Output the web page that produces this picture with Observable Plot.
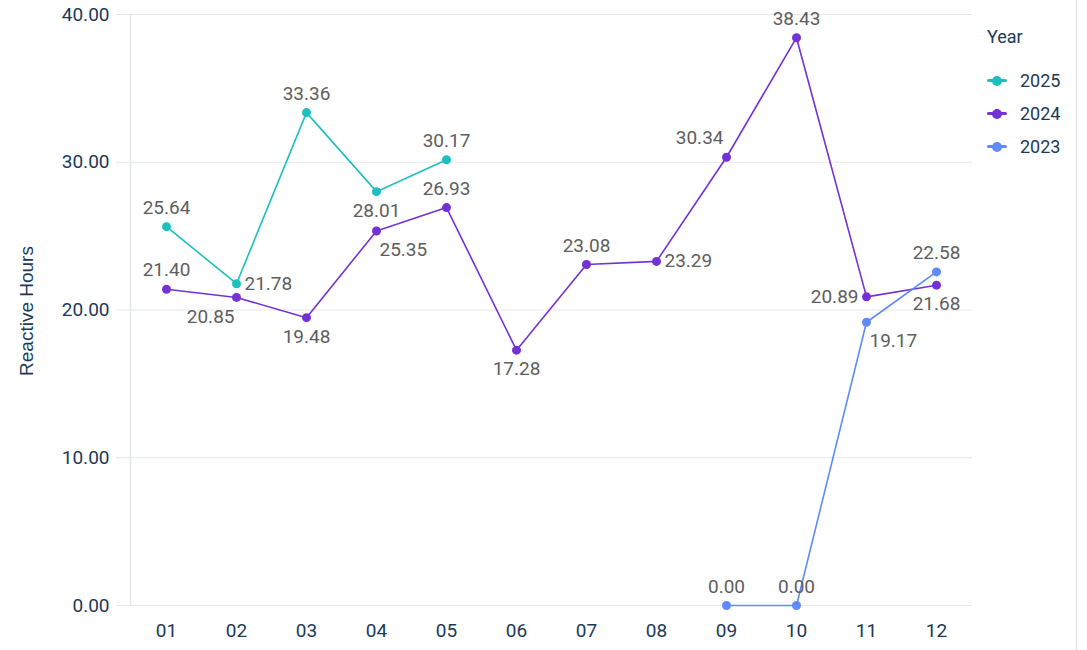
<!DOCTYPE html>
<html>
<head>
<meta charset="utf-8">
<script src="https://cdn.jsdelivr.net/npm/d3@7"></script>
<script src="https://cdn.jsdelivr.net/npm/@observablehq/plot@0.6"></script>
<style>
  html, body { margin: 0; padding: 0; background: #fff; }
  #wrap { position: relative; width: 1087px; height: 650px; overflow: hidden; font-family: Roboto, sans-serif; }
  #wrap svg { position: absolute; left: 0; top: 0; }
  #edge { position: absolute; left: 1076px; top: 0; width: 1px; height: 650px; background: #dcdcdc; }
  #ytitle { position: absolute; left: 27px; top: 311px; transform: translate(-50%, -50%) rotate(-90deg);
            white-space: nowrap; font-family: "Liberation Sans", Arial, sans-serif; font-size: 19px; color: #1c3a58; }
  #legend { position: absolute; left: 987px; top: 24px; color: #1c3a58; font-size: 18px; }
  #legend .title { height: 26px; line-height: 26px; margin-bottom: 14px; }
  #legend .item { display: flex; align-items: center; height: 33px; }
  #legend .sw { position: relative; width: 20px; height: 10px; margin-right: 13px; }
  #legend .sw .ln { position: absolute; left: 0; top: 3.5px; width: 20px; height: 3px; border-radius: 2px; }
  #legend .sw .pt { position: absolute; left: 5px; top: 0; width: 10px; height: 10px; border-radius: 50%; }
</style>
</head>
<body>
<div id="wrap">
  <div id="edge"></div>
  <div id="ytitle">Reactive Hours</div>
  <div id="legend"></div>
</div>
<script>
// Months on the x axis
const months = ["01", "02", "03", "04", "05", "06", "07", "08", "09", "10", "11", "12"];

// Reactive hours per month, one array per year (null = no data)
const hours2025 = [25.64, 21.78, 33.36, 28.01, 30.17, null, null, null, null, null, null, null];
const hours2024 = [21.40, 20.85, 19.48, 25.35, 26.93, 17.28, 23.08, 23.29, 30.34, 38.43, 20.89, 21.68];
const hours2023 = [null, null, null, null, null, null, null, null, 0.00, 0.00, 19.17, 22.58];

// Where each value label sits relative to its point
const labelSide2025 = ["top", "right", "top", "bottom", "top", null, null, null, null, null, null, null];
const labelSide2024 = ["top", "bottomLeft", "bottom", "bottomRight", "top", "bottom", "top", "right", "topLeft", "top", "left", "bottom"];
const labelSide2023 = [null, null, null, null, null, null, null, null, "top", "top", "bottomRight", "top"];

const years = ["2025", "2024", "2023"];
const yearColors = ["#1dbfbf", "#7432d6", "#5f8af7"];
const yTicks = [0, 10, 20, 30, 40];

const series = [
  {year: "2025", values: hours2025, sides: labelSide2025},
  {year: "2024", values: hours2024, sides: labelSide2024},
  {year: "2023", values: hours2023, sides: labelSide2023}
];

const rows = series.flatMap(s => months.map((m, i) => ({
  month: m, year: s.year, value: s.values[i], side: s.sides[i]
})).filter(d => d.value != null));

const fmt = d3.format(".2f");

const sides = {
  top:         {dx: 0,  dy: -19, textAnchor: "middle"},
  bottom:      {dx: 0,  dy: 19,  textAnchor: "middle"},
  right:       {dx: 8,  dy: 0,   textAnchor: "start"},
  left:        {dx: -8, dy: 0,   textAnchor: "end"},
  topLeft:     {dx: -3, dy: -19, textAnchor: "end"},
  bottomLeft:  {dx: -2, dy: 19,  textAnchor: "end"},
  bottomRight: {dx: 3,  dy: 19,  textAnchor: "start"}
};

const labelMarks = Object.entries(sides).map(([key, opt]) =>
  Plot.text(rows.filter(d => d.side === key), {
    x: "month", y: "value", text: d => fmt(d.value),
    dx: opt.dx, dy: opt.dy, textAnchor: opt.textAnchor,
    fill: "#5e5e5e", fontSize: 19
  })
);

const drawOrder = ["2025", "2024", "2023"];

const chart = Plot.plot({
  width: 1087,
  height: 650,
  marginLeft: 130,
  marginRight: 115,
  marginTop: 14,
  marginBottom: 45,
  style: {fontFamily: "Roboto, sans-serif", background: "transparent", overflow: "visible"},
  x: {type: "point", domain: months, padding: 0.5, axis: null, label: null},
  y: {domain: [0, 40], axis: null, label: null},
  color: {domain: years, range: yearColors},
  marks: [
    Plot.ruleY(yTicks, {stroke: "#e4e7ec", strokeWidth: 1.2, insetLeft: -14}),
    Plot.frame({anchor: "left", stroke: "#e4e7ec", strokeWidth: 1.5}),
    Plot.axisY(yTicks, {tickSize: 0, tickPadding: 21, tickFormat: fmt, fontSize: 19, color: "#1c3a58", label: null}),
    Plot.axisX(months, {tickSize: 0, tickPadding: 18, fontSize: 19, color: "#1c3a58", label: null}),
    ...drawOrder.map(y => Plot.line(rows.filter(d => d.year === y), {
      x: "month", y: "value", stroke: "year", strokeWidth: 1.6
    })),
    ...drawOrder.map(y => Plot.dot(rows.filter(d => d.year === y), {
      x: "month", y: "value", fill: "year", r: 4.5
    })),
    ...labelMarks
  ]
});

const wrap = document.getElementById("wrap");
wrap.insertBefore(chart, wrap.firstChild);

// Legend built from the same year/colour lists
const legend = document.getElementById("legend");
legend.innerHTML = `<div class="title">Year</div>` + years.map((y, i) =>
  `<div class="item"><div class="sw"><div class="ln" style="background:${yearColors[i]}"></div>` +
  `<div class="pt" style="background:${yearColors[i]}"></div></div><span>${y}</span></div>`
).join("");
</script>
</body>
</html>
